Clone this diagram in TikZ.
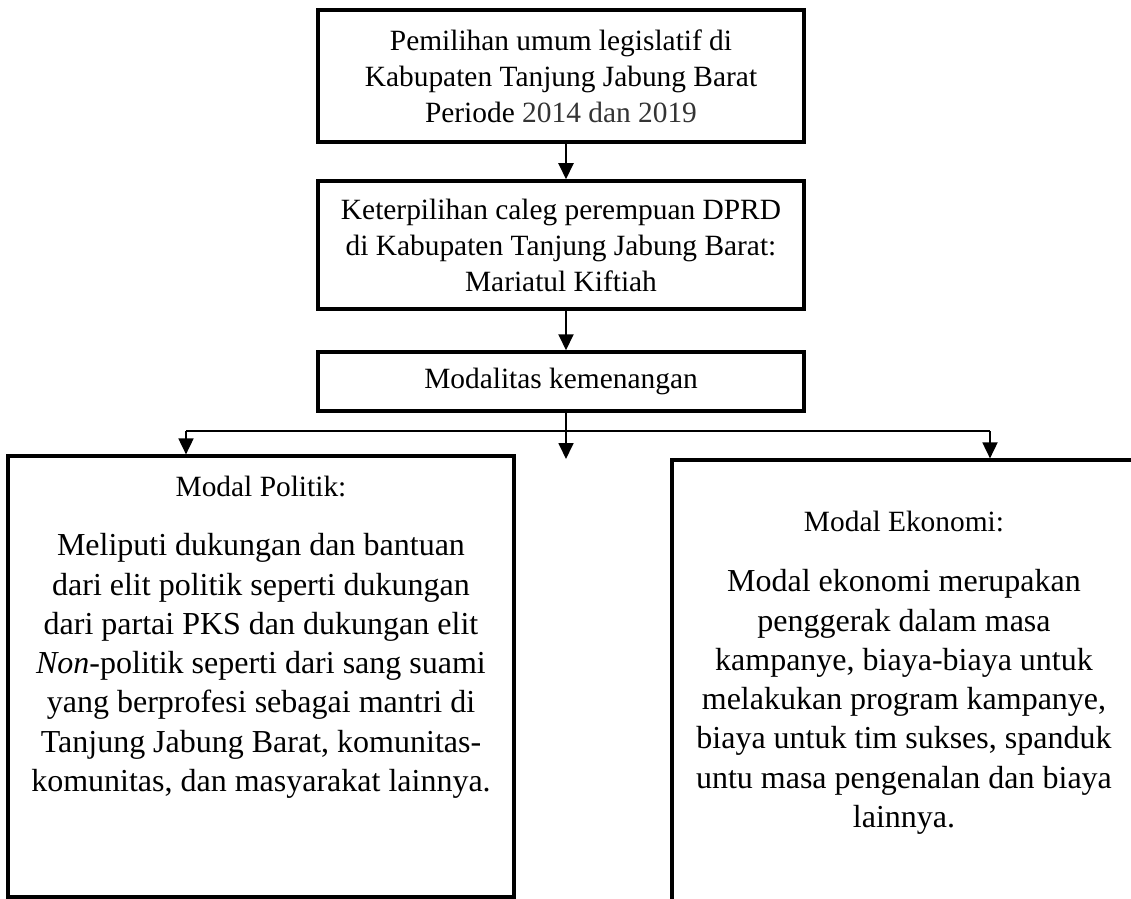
\documentclass[tikz,border=0pt]{standalone}
\usepackage{fontspec}
\setmainfont{Liberation Serif}
\usetikzlibrary{arrows.meta}
\definecolor{softblack}{RGB}{52,52,52}
\begin{document}
\begin{tikzpicture}[x=0.5pt,y=-0.5pt,
  topbox/.style={draw,line width=1.75pt,rectangle,inner sep=0pt,align=center,
     font=\fontsize{14.7}{18}\selectfont},
  lowbox/.style={draw,line width=1.6pt,rectangle,inner sep=0pt},
  headtext/.style={inner sep=0pt,align=center,font=\fontsize{14.7}{18}\selectfont},
  bodytext/.style={inner sep=0pt,align=center,font=\fontsize{16}{19.65}\selectfont},
  mainarrow/.style={line width=1pt,-{Triangle[width=7.5pt,length=8pt]}},
  brancharrow/.style={line width=0.9pt,-{Triangle[width=7.5pt,length=8pt]}},
  thinline/.style={line width=0.65pt}
]
\clip (0,0) rectangle (1131,899);
\fill[white] (0,0) rectangle (1131,899);

\node[topbox,minimum width=243pt,minimum height=66pt] (b1) at (561,76)
  {Pemilihan umum legislatif di\\Kabupaten Tanjung Jabung Barat\\Periode {\color{softblack}2014 dan 2019}};
\node[topbox,minimum width=243pt,minimum height=64pt] (b2) at (561,245)
  {Keterpilihan caleg perempuan DPRD\\di Kabupaten Tanjung Jabung Barat:\\Mariatul Kiftiah};
\node[topbox,minimum width=243pt,minimum height=29.5pt] (b3) at (561,381.5)
  {Modalitas kemenangan};

\node[lowbox,minimum width=253pt,minimum height=220.5pt] (pl) at (261,676.5) {};
\node[lowbox,minimum width=232pt,minimum height=270pt] (pr) at (904,730) {};

\node[headtext] (plh) at (261,487) {Modal Politik:};
\node[bodytext] (plb) at (261,666)
  {Meliputi dukungan dan bantuan\\dari elit politik seperti dukungan\\dari partai PKS dan dukungan elit\\\textit{Non}-politik seperti dari sang suami\\yang berprofesi sebagai mantri di\\Tanjung Jabung Barat, komunitas-\\komunitas, dan masyarakat lainnya.};

\node[headtext] (prh) at (904,522) {Modal Ekonomi:};
\node[bodytext] (prb) at (904,702)
  {Modal ekonomi merupakan\\penggerak dalam masa\\kampanye, biaya-biaya untuk\\melakukan program kampanye,\\biaya untuk tim sukses, spanduk\\untu masa pengenalan dan biaya\\lainnya.};

\coordinate (jc) at (566,431);
\coordinate (jl) at (186,431);
\coordinate (jr) at (990,431);
\coordinate (cend) at (566,459);

\draw[mainarrow] ([xshift=2.5pt]b1.south) -- ([xshift=2.5pt]b2.north);
\draw[mainarrow] ([xshift=2.5pt]b2.south) -- ([xshift=2.5pt]b3.north);
\draw[thinline] ([xshift=2.5pt]b3.south) -- (jc);
\draw[thinline] (jl) -- (jr);
\draw[brancharrow] (jc) -- (cend);
\draw[brancharrow] (jl) -- (jl |- pl.north);
\draw[brancharrow] (jr) -- (jr |- pr.north);
\end{tikzpicture}
\end{document}
